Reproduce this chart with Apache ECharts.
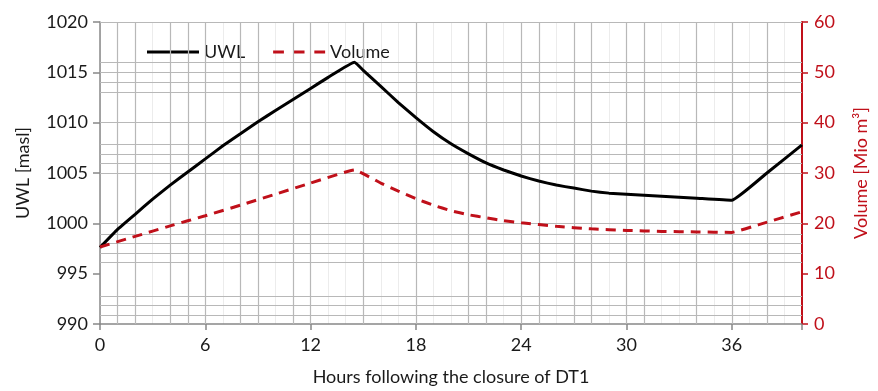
<!DOCTYPE html>
<html>
<head>
<meta charset="utf-8">
<script src="https://cdn.jsdelivr.net/npm/echarts@6/dist/echarts.min.js"></script>
<style>html,body{margin:0;padding:0;background:#fff}#c{width:878px;height:391px}</style>
</head>
<body>
<div id="c"></div>
<script>
// ---- data ----
const uwlHours = [0, 1, 2, 3, 4, 5, 6, 7, 8, 9, 10, 11, 12, 13, 14.5, 15, 16, 17, 18, 19, 20, 21, 22, 23, 24, 25, 26, 27, 28, 29, 30, 32, 34, 36, 38, 40];
const uwlValues = [997.6, 999.4, 1000.9, 1002.4, 1003.8, 1005.1, 1006.4, 1007.7, 1008.9, 1010.1, 1011.2, 1012.3, 1013.4, 1014.5, 1016.0, 1015.2, 1013.6, 1012.0, 1010.5, 1009.1, 1007.9, 1006.9, 1006.0, 1005.3, 1004.7, 1004.2, 1003.8, 1003.5, 1003.2, 1003.0, 1002.9, 1002.7, 1002.5, 1002.3, 1005.0, 1007.8];
const volHours = [0, 2, 4, 6, 8, 10, 12, 14.5, 16, 17, 18, 19, 20, 21, 22, 23, 24, 26, 28, 30, 32, 34, 36, 37.5, 40];
const volValues = [15.3, 17.4, 19.5, 21.5, 23.6, 25.8, 28.0, 30.6, 28.0, 26.4, 24.9, 23.6, 22.5, 21.7, 21.1, 20.5, 20.1, 19.4, 18.9, 18.6, 18.4, 18.3, 18.2, 19.7, 22.3];
const xTicks = [0, 6, 12, 18, 24, 30, 36];
const vGridHours = [1, 2, 4, 5, 6, 8, 9, 11, 12, 15, 18, 21, 22, 24, 25, 27, 28, 30, 31, 34, 36, 38];
const hGridUwl = [1016, 1015, 1014, 1013, 1010, 1007.9, 1006.9, 1006, 1005, 1000, 998.95, 998, 997.05, 996.1, 992.8, 991.85, 990.9, 1020];

const FONT = 'Lato';
const RED = '#c0101a';
const TXT = '#1a1a1a';
const chart = echarts.init(document.getElementById('c'), null, {renderer: 'canvas'});

const uwlData = uwlHours.map((h, i) => [h, uwlValues[i]]);
const volData = volHours.map((h, i) => [h, volValues[i]]);

chart.setOption({
  animation: false,
  backgroundColor: '#fff',
  grid: {left: 100, right: 71, top: 22, bottom: 59, containLabel: false},
  legend: {
    left: 142, top: 38,
    itemWidth: 52, itemHeight: 3, itemGap: 28,
    textStyle: {fontFamily: FONT, fontSize: 18, color: TXT},
    data: [
      {name: 'UWL', icon: 'rect', itemStyle: {color: '#000'}},
      {name: 'Volume', icon: 'path://M0,0h11v3h-11z M21,0h11v3h-11z M42,0h11v3h-11z', itemStyle: {color: RED}}
    ]
  },
  xAxis: [{
    type: 'value', min: 0, max: 40, interval: 6,
    name: 'Hours following the closure of DT1',
    nameLocation: 'middle', nameGap: 44,
    nameTextStyle: {fontFamily: FONT, fontSize: 18, color: TXT},
    axisLine: {show: true, onZero: false, lineStyle: {color: '#888', width: 1.5}},
    axisTick: {show: true, length: 6, inside: false, lineStyle: {color: '#888', width: 1.5}},
    axisLabel: {fontFamily: FONT, fontSize: 18, color: TXT, margin: 12,
      formatter: v => (xTicks.indexOf(v) >= 0 ? String(v) : '')},
    splitLine: {show: false}
  }, {
    type: 'value', min: 0, max: 40, interval: 1, position: 'top',
    axisLine: {show: false}, axisTick: {show: false}, axisLabel: {show: false},
    splitLine: {show: true, lineStyle: {color: '#ececec', width: 1}}
  }],
  yAxis: [{
    type: 'value', min: 990, max: 1020, interval: 5,
    name: 'UWL [masl]', nameLocation: 'middle', nameGap: 68,
    nameTextStyle: {fontFamily: FONT, fontSize: 18, color: TXT},
    axisLine: {show: true, onZero: false, lineStyle: {color: '#888', width: 1.5}},
    axisTick: {show: true, length: 7, lineStyle: {color: '#888', width: 1.5}},
    axisLabel: {fontFamily: FONT, fontSize: 18, color: TXT, margin: 12, formatter: v => String(v)},
    splitLine: {show: false}
  }, {
    type: 'value', min: 0, max: 60, interval: 10, position: 'right',
    name: 'Volume [Mio m³]', nameLocation: 'middle', nameGap: 50, nameRotate: 90,
    nameTextStyle: {fontFamily: FONT, fontSize: 18, color: RED},
    axisLine: {show: true, onZero: false, lineStyle: {color: RED, width: 2}},
    axisTick: {show: true, length: 6, lineStyle: {color: RED, width: 1.5}},
    axisLabel: {fontFamily: FONT, fontSize: 18, color: RED, margin: 12, formatter: v => String(v)},
    splitLine: {show: false}
  }],
  series: [{
    name: 'grid', type: 'line', data: [], xAxisIndex: 0, yAxisIndex: 0, silent: true,
    markLine: {
      silent: true, symbol: 'none', animation: false,
      label: {show: false},
      lineStyle: {color: '#b8b8b8', width: 1.2, type: 'solid'},
      data: vGridHours.map(h => ({xAxis: h})).concat(hGridUwl.map(v => ({yAxis: v})))
    }
  }, {
    name: 'UWL', type: 'line', data: uwlData, xAxisIndex: 0, yAxisIndex: 0,
    smooth: 0.1, symbol: 'none', showSymbol: false,
    lineStyle: {color: '#000', width: 3},
    itemStyle: {color: '#000'}, z: 5
  }, {
    name: 'Volume', type: 'line', data: volData, xAxisIndex: 0, yAxisIndex: 1,
    smooth: 0.1, symbol: 'none', showSymbol: false,
    lineStyle: {color: RED, width: 3, type: [10, 7]},
    itemStyle: {color: RED}, z: 5
  }]
});
</script>
</body>
</html>
